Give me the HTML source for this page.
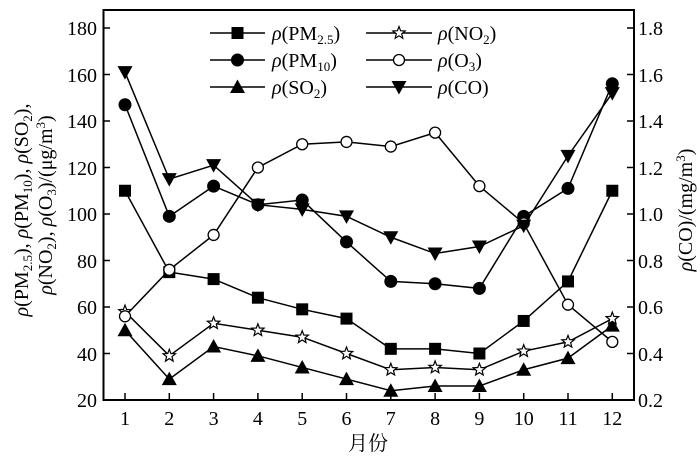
<!DOCTYPE html>
<html><head><meta charset="utf-8"><style>
body{margin:0;background:#fff;}
svg, svg text, svg tspan{font-family:"Liberation Serif","Times New Roman","DejaVu Serif","Noto Serif CJK SC",serif;}
.r{font-style:italic;}
</style></head><body>
<svg id="s" width="700" height="459" viewBox="0 0 700 459" xmlns="http://www.w3.org/2000/svg">
<rect x="103.5" y="10" width="530.5" height="390" fill="none" stroke="#000" stroke-width="2"/>
<g font-size="20" fill="#000">
<text x="97" y="35" text-anchor="end">180</text>
<text x="97" y="82" text-anchor="end">160</text>
<text x="97" y="128" text-anchor="end">140</text>
<text x="97" y="175" text-anchor="end">120</text>
<text x="97" y="221" text-anchor="end">100</text>
<text x="97" y="268" text-anchor="end">80</text>
<text x="97" y="314" text-anchor="end">60</text>
<text x="97" y="361" text-anchor="end">40</text>
<text x="97" y="407" text-anchor="end">20</text>
<text x="638" y="35">1.8</text>
<text x="638" y="82">1.6</text>
<text x="638" y="128">1.4</text>
<text x="638" y="175">1.2</text>
<text x="638" y="221">1.0</text>
<text x="638" y="268">0.8</text>
<text x="638" y="314">0.6</text>
<text x="638" y="361">0.4</text>
<text x="638" y="407">0.2</text>
<g text-anchor="middle">
<text x="125" y="425">1</text><text x="169.3" y="425">2</text><text x="213.6" y="425">3</text><text x="257.9" y="425">4</text><text x="302.2" y="425">5</text><text x="346.5" y="425">6</text><text x="390.8" y="425">7</text><text x="435.1" y="425">8</text><text x="479.4" y="425">9</text><text x="523.7" y="425">10</text><text x="568" y="425">11</text><text x="612.3" y="425">12</text>
</g>
<text x="368" y="450" text-anchor="middle">月份</text>
<text transform="translate(28,210) rotate(-90)" text-anchor="middle"><tspan class="r">ρ</tspan>(PM<tspan font-size="13" dy="4">2.5</tspan><tspan dy="-4">), </tspan><tspan class="r">ρ</tspan>(PM<tspan font-size="13" dy="4">10</tspan><tspan dy="-4">), </tspan><tspan class="r">ρ</tspan>(SO<tspan font-size="13" dy="4">2</tspan><tspan dy="-4">),</tspan></text>
<text transform="translate(52,205) rotate(-90)" text-anchor="middle"><tspan class="r">ρ</tspan>(NO<tspan font-size="13" dy="4">2</tspan><tspan dy="-4">), </tspan><tspan class="r">ρ</tspan>(O<tspan font-size="13" dy="4">3</tspan><tspan dy="-4">)/(μg/m</tspan><tspan font-size="13" dy="-7">3</tspan><tspan dy="7">)</tspan></text>
<text transform="translate(692,210) rotate(-90)" text-anchor="middle"><tspan class="r">ρ</tspan>(CO)/(mg/m<tspan font-size="13" dy="-7">3</tspan><tspan dy="7">)</tspan></text>
<text x="272" y="40"><tspan class="r">ρ</tspan>(PM<tspan font-size="13" dy="4">2.5</tspan><tspan dy="-4">)</tspan></text>
<text x="272" y="67"><tspan class="r">ρ</tspan>(PM<tspan font-size="13" dy="4">10</tspan><tspan dy="-4">)</tspan></text>
<text x="272" y="94"><tspan class="r">ρ</tspan>(SO<tspan font-size="13" dy="4">2</tspan><tspan dy="-4">)</tspan></text>
<text x="438" y="40"><tspan class="r">ρ</tspan>(NO<tspan font-size="13" dy="4">2</tspan><tspan dy="-4">)</tspan></text>
<text x="438" y="67"><tspan class="r">ρ</tspan>(O<tspan font-size="13" dy="4">3</tspan><tspan dy="-4">)</tspan></text>
<text x="438" y="94"><tspan class="r">ρ</tspan>(CO)</text>
</g>
<g id="g"></g>
</svg>
<script>
var g=document.getElementById('g'),NS='http://www.w3.org/2000/svg';
function el(t,a){var e=document.createElementNS(NS,t);for(var k in a)e.setAttribute(k,a[k]);g.appendChild(e);return e;}
function X(i){return 125+i*44.3;} function Y(v){return 400-(v-20)*2.325;}
for(var v=20;v<=180;v+=20){var y=Y(v);el('line',{x1:103.5,x2:110,y1:y,y2:y,stroke:'#000','stroke-width':1.5});el('line',{x1:627,x2:634,y1:y,y2:y,stroke:'#000','stroke-width':1.5});}
for(var i=0;i<12;i++)el('line',{x1:X(i),x2:X(i),y1:400,y2:393,stroke:'#000','stroke-width':1.5});
function mk(type,x,y){
 if(type=='sq')el('rect',{x:x-6,y:y-6,width:12,height:12,fill:'#000'});
 else if(type=='ci')el('circle',{cx:x,cy:y,r:6.5,fill:'#000'});
 else if(type=='oc')el('circle',{cx:x,cy:y,r:5.5,fill:'#fff',stroke:'#000','stroke-width':1.3});
 else if(type=='tu')el('polygon',{points:(x-7.5)+','+(y+6)+' '+(x+7.5)+','+(y+6)+' '+x+','+(y-7.5),fill:'#000'});
 else if(type=='td')el('polygon',{points:(x-7.5)+','+(y-6)+' '+(x+7.5)+','+(y-6)+' '+x+','+(y+7.5),fill:'#000'});
 else if(type=='st'){var p=[];for(var k=0;k<10;k++){var r=k%2?2.8:6.5,a=-Math.PI/2+k*Math.PI/5;p.push((x+r*Math.cos(a)).toFixed(1)+','+(y+r*Math.sin(a)).toFixed(1));}
  el('polygon',{points:p.join(' '),fill:'#fff',stroke:'#000','stroke-width':1.2});}
}
var S=[
['sq',[110,75,72,64,59,55,42,42,40,54,71,110]],
['ci',[147,99,112,104,106,88,71,70,68,99,111,156]],
['tu',[50,29,43,39,34,29,24,26,26,33,38,52]],
['st',[58,39,53,50,47,40,33,34,33,41,45,55]],
['oc',[56,76,91,120,130,131,129,135,112,96,61,45]],
['td',[161,115,121,104,102,99,90,83,86,95,125,152]]];
S.forEach(function(s){var p=s[1].map(function(v,i){return X(i)+','+Y(v);}).join(' ');
 el('polyline',{points:p,fill:'none',stroke:'#000','stroke-width':1.5});});
S.forEach(function(s){s[1].forEach(function(v,i){mk(s[0],X(i),Y(v));});});
var L=[[210,265,33,'sq'],[210,265,60,'ci'],[210,265,87,'tu'],[366,432,33,'st'],[366,432,60,'oc'],[366,432,87,'td']];
L.forEach(function(l){el('line',{x1:l[0],x2:l[1],y1:l[2],y2:l[2],stroke:'#000','stroke-width':1.5});mk(l[3],(l[0]+l[1])/2,l[2]);});
</script>
</body></html>
